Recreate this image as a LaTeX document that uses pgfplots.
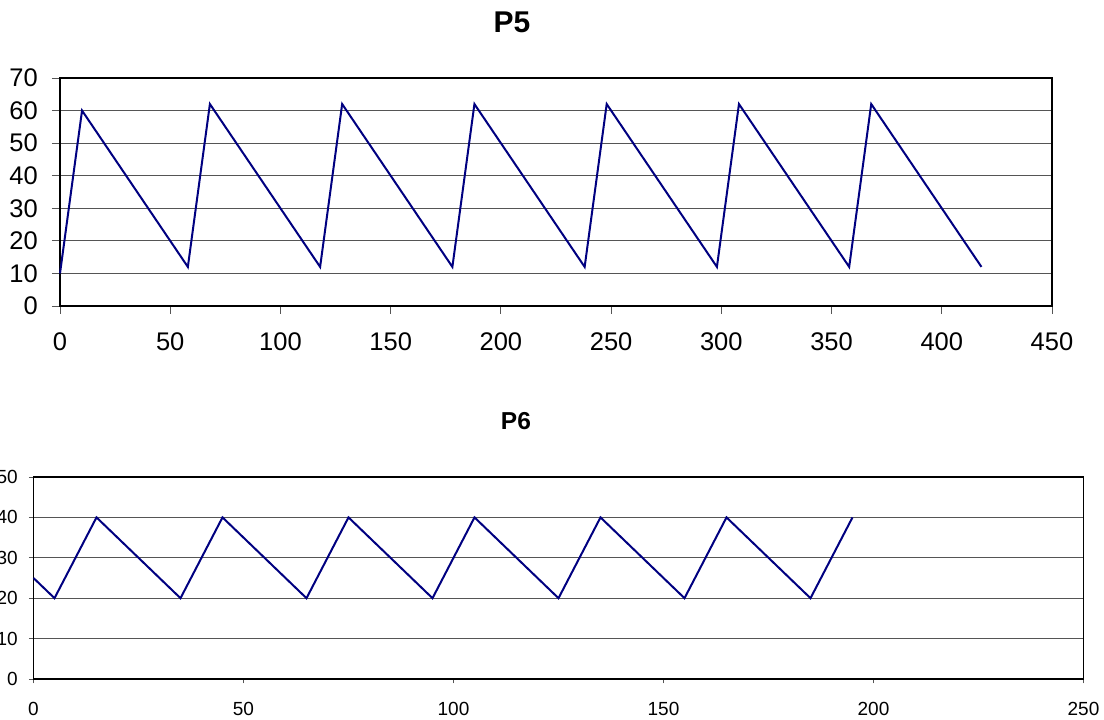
\documentclass[border=0pt]{standalone}
\usepackage{pgfplots}
\pgfplotsset{compat=1.18}
\usepackage{fontspec}
\setmainfont{Liberation Sans}

\definecolor{navyline}{RGB}{0,0,128}
\definecolor{gridgray}{RGB}{85,85,85}

\pgfplotsset{
  excelbox/.style={
    scale only axis,
    anchor=south west,
    axis line style={black, line width=1.8pt},
    ymajorgrids=true,
    grid style={gridgray, line width=0.9pt},
    tick align=outside,
    tick style={gridgray, line width=0.9pt},
    xtick pos=bottom, ytick pos=left,
    /pgf/number format/assume math mode=true,
    clip=false,
  },
}

\begin{document}
\begin{tikzpicture}
\useasboundingbox (0pt,0pt) rectangle (1104pt,720pt);
\clip (0pt,0pt) rectangle (1104pt,720pt);

% P5
\begin{axis}[excelbox,
  at={(60pt,414pt)}, width=992pt, height=228pt,
  xmin=0, xmax=450, ymin=0, ymax=70,
  xtick={0,50,...,450}, ytick={0,10,...,70},
  major tick length=8pt,
  ticklabel style={font=\fontsize{25.5}{30}\selectfont, inner sep=0pt},
  xticklabel style={anchor=north, yshift=-19pt},
  yticklabel style={anchor=east, xshift=-14pt},
  title={P5},
  title style={font=\fontsize{30}{36}\selectfont\bfseries, anchor=center,
    at={(axis description cs:0.4556,1.219)}},
]
\addplot[navyline, line width=2pt] coordinates {
  (0,10) (10,60) (58,12) (68,62) (118,12) (128,62) (178,12) (188,62)
  (238,12) (248,62) (298,12) (308,62) (358,12) (368,62) (418,12)
};
\end{axis}

% P6
\begin{axis}[excelbox,
  at={(33.5pt,41pt)}, width=1050pt, height=202pt,
  xmin=0, xmax=250, ymin=0, ymax=50,
  xtick={0,50,...,250}, ytick={0,10,...,50},
  major tick length=4.5pt,
  axis line style={line width=1.6pt},
  ticklabel style={font=\fontsize{19}{23}\selectfont, inner sep=0pt},
  xticklabel style={anchor=north, yshift=-19pt},
  yticklabel style={anchor=east, xshift=-11pt},
  title={P6},
  title style={font=\fontsize{24.5}{30}\selectfont\bfseries, anchor=center,
    at={(axis description cs:0.4595,1.2475)}},
]
\addplot[navyline, line width=2pt] coordinates {
  (0,25) (5,20) (15,40) (35,20) (45,40) (65,20) (75,40) (95,20)
  (105,40) (125,20) (135,40) (155,20) (165,40) (185,20) (195,40)
};
\end{axis}
\end{tikzpicture}
\end{document}
